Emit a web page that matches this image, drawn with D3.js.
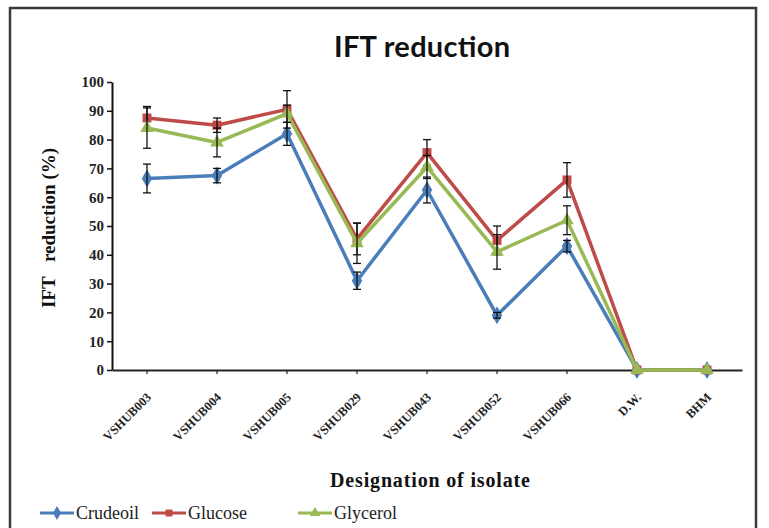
<!DOCTYPE html>
<html><head><meta charset="utf-8">
<script src="https://cdn.jsdelivr.net/npm/d3@7"></script>
<style>body{margin:0;background:#fff}svg{display:block}</style>
</head><body>
<svg id="c" width="769" height="528"></svg>
<script>
const categories = ["VSHUB003","VSHUB004","VSHUB005","VSHUB029","VSHUB043","VSHUB052","VSHUB066","D.W.","BHM"];
const crudeOil = [66.5, 67.5, 82, 31, 62.5, 19, 43, 0, 0];
const crudeOilErr = [5, 2.5, 4, 3, 4.5, 1, 2, 0, 0];
const glucose = [87.5, 85, 90.5, 45.5, 75.5, 45, 66, 0, 0];
const glucoseErr = [4, 2.5, 6.5, 5.5, 4.5, 5, 6, 0, 0];
const glycerol = [84, 79, 89, 44, 70.5, 41, 52, 0, 0];
const glycerolErr = [7, 5, 3, 7, 4, 6, 5, 0, 0];
const yTicks = [0,10,20,30,40,50,60,70,80,90,100];
const seriesNames = ["Crude oil","Glucose","Glycerol"];
const legendLabels = ["Crudeoil","Glucose","Glycerol"];

const series = [
  {name: seriesNames[0], values: crudeOil, err: crudeOilErr, color: "#4A7EBB", sym: d3.symbolDiamond, size: 95},
  {name: seriesNames[1], values: glucose, err: glucoseErr, color: "#BE4B48", sym: d3.symbolSquare, size: 80},
  {name: seriesNames[2], values: glycerol, err: glycerolErr, color: "#98B954", sym: d3.symbolTriangle, size: 80}
];

const serif = "'Liberation Serif', 'DejaVu Serif', serif";
const svg = d3.select("#c");
svg.append("rect").attr("x",10).attr("y",8).attr("width",746).attr("height",530)
  .attr("fill","#fff").attr("stroke","#3a3a3a").attr("stroke-width",2.5);

const x = d3.scaleBand().domain(categories).range([112, 742]);
const y = d3.scaleLinear().domain([0,100]).range([370, 82]);
const cx = d => x(d) + x.bandwidth()/2;

svg.append("text").attr("x",422).attr("y",57).attr("text-anchor","middle")
  .attr("font-family","Lato, 'Open Sans', sans-serif").attr("font-weight","bold")
  .attr("font-size",29).attr("fill","#111").attr("textLength",176).text("IFT reduction");

// axes
const yAxis = svg.append("g").attr("transform","translate(112,0)")
  .call(d3.axisLeft(y).tickValues(yTicks).tickSize(5).tickSizeOuter(0));
yAxis.select(".domain").attr("stroke","#111").attr("stroke-width",2);
yAxis.selectAll(".tick line").attr("stroke","#111").attr("stroke-width",1.5);
yAxis.selectAll(".tick text").attr("font-family",serif)
  .attr("font-weight","bold").attr("font-size",15).attr("fill","#222").attr("x",-8);

const xAxis = svg.append("g").attr("transform","translate(0,370)")
  .call(d3.axisBottom(x).tickSize(4).tickSizeOuter(0));
xAxis.select(".domain").attr("stroke","#222").attr("stroke-width",2.2);
xAxis.selectAll(".tick line").attr("stroke","#222").attr("stroke-width",1.2);
xAxis.selectAll(".tick text").attr("font-family",serif)
  .attr("font-weight","bold").attr("font-size",12.5).attr("fill","#222")
  .attr("text-anchor","end").attr("dy",0).attr("y",0)
  .attr("transform","translate(5,28) rotate(-45)");

svg.append("text").attr("transform","translate(55,228) rotate(-90)").attr("text-anchor","middle")
  .attr("font-family",serif).attr("font-weight","bold")
  .attr("font-size",19).attr("fill","#111")
  .text("IFT\u00a0\u00a0\u00a0reduction (%)");
svg.append("text").attr("x",430).attr("y",487).attr("text-anchor","middle")
  .attr("font-family",serif).attr("font-weight","bold")
  .attr("font-size",20).attr("fill","#111").attr("textLength",200).text("Designation of isolate");

const line = d3.line().x((d,i) => cx(categories[i])).y(d => y(d));
series.forEach(s => {
  const g = svg.append("g");
  g.append("path").datum(s.values).attr("d", line).attr("fill","none")
    .attr("stroke", s.color).attr("stroke-width",3.5).attr("stroke-linejoin","round");
  g.selectAll("path.m").data(s.values).join("path").attr("class","m")
    .attr("transform",(d,i) => `translate(${cx(categories[i])},${y(d)})`)
    .attr("d", d3.symbol().type(s.sym).size(s.size)).attr("fill", s.color);
  const eb = g.selectAll("g.eb").data(s.values.map((v,i)=>({v, e:s.err[i], c:categories[i]})).filter(d=>d.e>0))
    .join("g").attr("class","eb");
  eb.append("line").attr("x1",d=>cx(d.c)).attr("x2",d=>cx(d.c))
    .attr("y1",d=>y(d.v-d.e)).attr("y2",d=>y(d.v+d.e)).attr("stroke","#111").attr("stroke-width",1.3);
  [-1,1].forEach(k => eb.append("line").attr("x1",d=>cx(d.c)-4).attr("x2",d=>cx(d.c)+4)
    .attr("y1",d=>y(d.v+k*d.e)).attr("y2",d=>y(d.v+k*d.e)).attr("stroke","#111").attr("stroke-width",1.3));
});

// legend
const legX = [40, 152, 298];
series.forEach((s,i) => {
  const g = svg.append("g").attr("transform",`translate(${legX[i]},513)`);
  g.append("line").attr("x1",0).attr("x2",34).attr("stroke",s.color).attr("stroke-width",3);
  g.append("path").attr("transform","translate(17,0)").attr("d",d3.symbol().type(s.sym).size(s.size*0.6)).attr("fill",s.color);
  g.append("text").attr("x",36).attr("y",6).attr("font-family",serif)
    .attr("font-size",18).attr("fill","#222").text(legendLabels[i]);
});
</script>
</body></html>
